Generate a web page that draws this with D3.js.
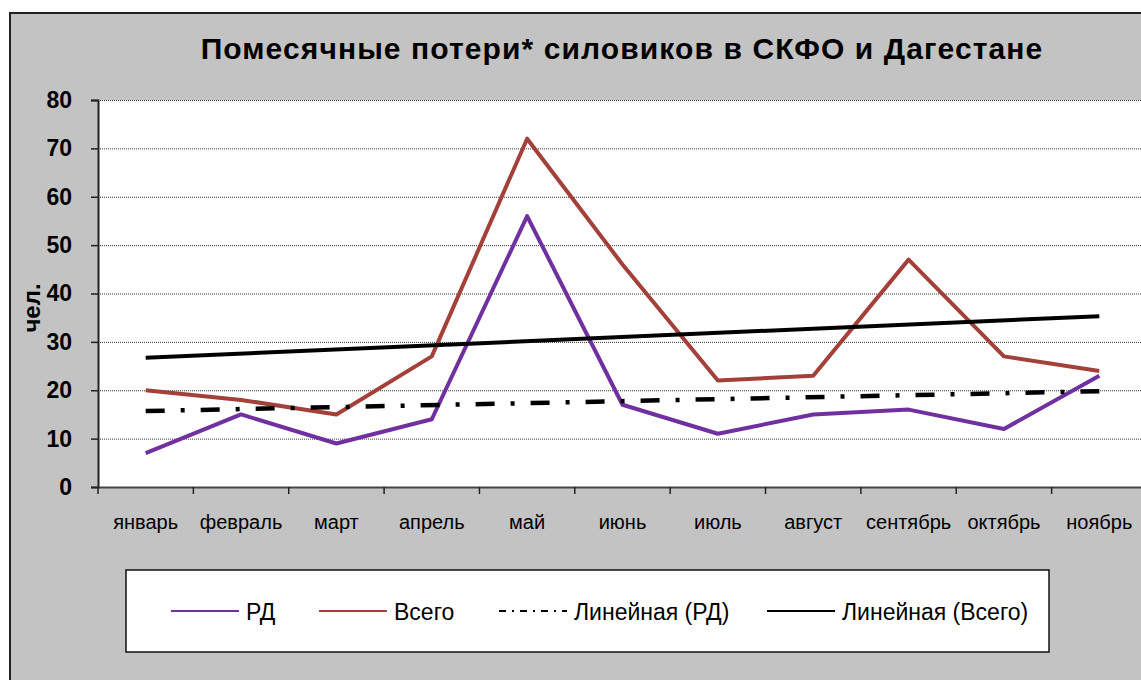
<!DOCTYPE html>
<meta charset="utf-8">
<html>
    <head>
        <style type="text/css">
            body { margin:0; background:#fff; }
            svg { display:block; }
            text { font-family: "Liberation Sans", Arial, sans-serif; fill:#000; }
        </style>
        <script src="https://d3js.org/d3.v7.min.js"></script>
    </head>
    <body>
        <svg width="1141" height="680"></svg>
        <script type="text/javascript">
            var months = ["январь", "февраль", "март", "апрель", "май", "июнь",
                          "июль", "август", "сентябрь", "октябрь", "ноябрь"];
            var rd    = [7, 15, 9, 14, 56, 17, 11, 15, 16, 12, 23];
            var total = [20, 18, 15, 27, 72, 46, 22, 23, 47, 27, 24];
            // trend lines: value at январь and at ноябрь
            var trendRd    = [15.7, 19.8];
            var trendTotal = [26.7, 35.3];
            var yTicks = [0, 10, 20, 30, 40, 50, 60, 70, 80];

            var purple = "#7030a0";
            var brown = "#a3403a";

            var plot = {left: 98, right: 1147, top: 100, bottom: 487};

            var svg = d3.select("svg");

            // chart area
            svg.append("rect")
                .attr("x", 10).attr("y", 13)
                .attr("width", 1160).attr("height", 700)
                .attr("fill", "#c3c3c3")
                .attr("stroke", "#222")
                .attr("stroke-width", 2);

            svg.append("rect")
                .attr("x", plot.left).attr("y", plot.top)
                .attr("width", plot.right - plot.left)
                .attr("height", plot.bottom - plot.top)
                .attr("fill", "#fff");

            var xScale = d3.scaleBand()
                .domain(months)
                .range([plot.left, plot.right])
                .padding(0);
            var xMid = m => xScale(m) + xScale.bandwidth() / 2;

            var yScale = d3.scaleLinear()
                .domain([0, 80])
                .range([plot.bottom, plot.top]);

            // gridlines
            svg.selectAll(".grid")
                .data(yTicks.filter(d => d > 0))
                .enter().append("line")
                .attr("x1", plot.left).attr("x2", plot.right)
                .attr("y1", d => yScale(d) + 0.5).attr("y2", d => yScale(d) + 0.5)
                .attr("stroke", "#333")
                .attr("stroke-width", 1)
                .attr("stroke-dasharray", "1,1");

            // y axis
            var yAxis = d3.axisLeft(yScale)
                .tickValues(yTicks)
                .tickSize(7)
                .tickPadding(19);
            var gy = svg.append("g")
                .attr("transform", "translate(" + plot.left + ",0)")
                .call(yAxis);
            gy.select(".domain").attr("stroke", "#222").attr("stroke-width", 2);
            gy.selectAll(".tick line").attr("stroke", "#222").attr("stroke-width", 1.5);
            gy.selectAll(".tick text")
                .style("font-size", "23px")
                .style("font-weight", "bold");

            // x axis: labels centred, ticks on the band boundaries
            var xAxis = d3.axisBottom(xScale)
                .tickSize(0)
                .tickPadding(28);
            var gx = svg.append("g")
                .attr("transform", "translate(0," + plot.bottom + ")")
                .call(xAxis);
            gx.select(".domain").attr("stroke", "#444").attr("stroke-width", 2);
            gx.selectAll(".tick text")
                .style("font-size", "20px");
            gx.selectAll(".bound")
                .data(months)
                .enter().append("line")
                .attr("x1", d => xScale(d)).attr("x2", d => xScale(d))
                .attr("y1", 0).attr("y2", 7)
                .attr("stroke", "#222")
                .attr("stroke-width", 1.5);

            // series
            var line = d3.line()
                .x((d, i) => xMid(months[i]))
                .y(d => yScale(d));

            svg.append("path")
                .datum(total)
                .attr("d", line)
                .attr("fill", "none")
                .attr("stroke", brown)
                .attr("stroke-width", 4)
                .attr("stroke-linejoin", "round");

            svg.append("path")
                .datum(rd)
                .attr("d", line)
                .attr("fill", "none")
                .attr("stroke", purple)
                .attr("stroke-width", 4)
                .attr("stroke-linejoin", "round");

            var trendLine = d3.line()
                .x((d, i) => xMid(months[i === 0 ? 0 : months.length - 1]))
                .y(d => yScale(d));

            svg.append("path")
                .datum(trendRd)
                .attr("d", trendLine)
                .attr("stroke", "#000")
                .attr("stroke-width", 4.5)
                .attr("stroke-dasharray", "19,16,4,16");

            svg.append("path")
                .datum(trendTotal)
                .attr("d", trendLine)
                .attr("stroke", "#000")
                .attr("stroke-width", 4);

            // title
            svg.append("text")
                .attr("x", 622)
                .attr("y", 59)
                .style("text-anchor", "middle")
                .style("font-size", "30px")
                .style("font-weight", "bold")
                .style("letter-spacing", "1.1px")
                .text("Помесячные потери* силовиков в СКФО и Дагестане");

            // y label
            svg.append("text")
                .attr("transform", "translate(40,308) rotate(-90)")
                .style("text-anchor", "middle")
                .style("font-size", "24px")
                .style("font-weight", "bold")
                .text("чел.");

            // legend
            svg.append("rect")
                .attr("x", 126).attr("y", 570)
                .attr("width", 923).attr("height", 82)
                .attr("fill", "#fff")
                .attr("stroke", "#111")
                .attr("stroke-width", 1.5);

            var legendItems = [
                {name: "РД", x: 171, color: purple, dash: null},
                {name: "Всего", x: 319, color: brown, dash: null},
                {name: "Линейная (РД)", x: 499, color: "#000", dash: "7,6,2,6"},
                {name: "Линейная (Всего)", x: 767, color: "#000", dash: null}
            ];
            var lg = svg.selectAll(".legend")
                .data(legendItems)
                .enter().append("g")
                .attr("transform", d => "translate(" + d.x + ",611)");
            lg.append("line")
                .attr("x1", 0).attr("x2", 68)
                .attr("stroke", d => d.color)
                .attr("stroke-width", 2)
                .attr("stroke-dasharray", d => d.dash);
            lg.append("text")
                .attr("x", 75)
                .attr("y", 9)
                .style("font-size", "23px")
                .text(d => d.name);
        </script>
    </body>
</html>
